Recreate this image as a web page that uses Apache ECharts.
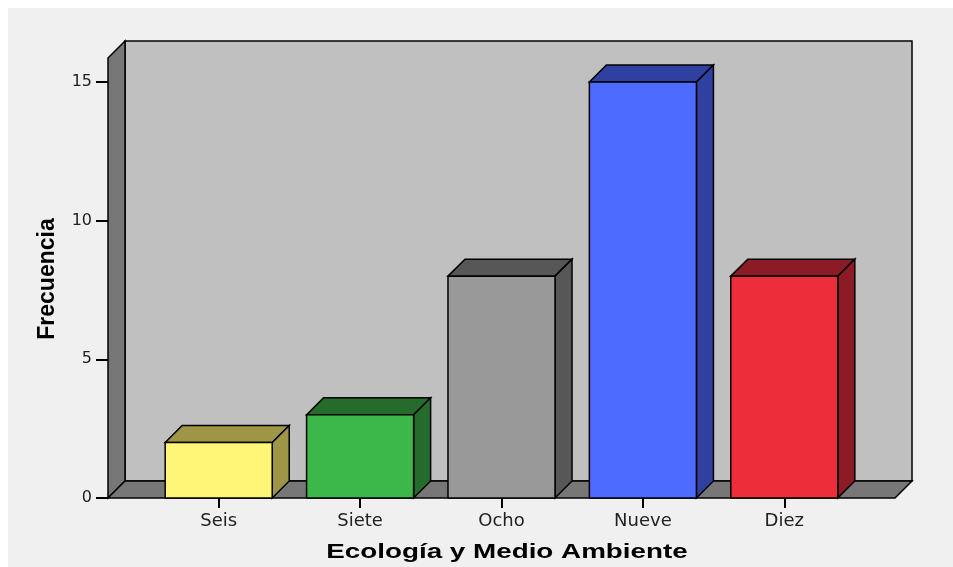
<!DOCTYPE html>
<html><head><meta charset="utf-8">
<script src="https://cdn.jsdelivr.net/npm/echarts@6/dist/echarts.min.js"></script>
<style>html,body{margin:0;padding:0;background:#fff}#c{width:953px;height:567px}</style>
</head><body><div id="c"></div>
<script>
// ---- data ----
const categories = ['Seis', 'Siete', 'Ocho', 'Nueve', 'Diez'];
const frecuencias = [2, 3, 8, 15, 8];
const yMin = 0, yMax = 15, yInterval = 5;
const xTitle = 'Ecología y Medio Ambiente';
const yTitle = 'Frecuencia';

// ---- style ----
const frontColors = ['#fff577', '#3cb84a', '#999999', '#4d6bff', '#ee2d3b'];
const shadeColors = ['#9e9645', '#256b2b', '#575757', '#2f40a0', '#8c1b25'];
const DX = 17, DY = -17;      // 3D depth offset
const PAD = 40;               // floor overhang beyond category band
const WALL_EXTRA = 24;        // wall height above top tick
const BAR_RATIO = 0.757;
const EDGE = '#000';

const chart = echarts.init(document.getElementById('c'), null, {renderer: 'canvas'});

function renderFrame(params, api) {
  const cs = params.coordSys;
  const x0 = cs.x - PAD, x1 = cs.x + cs.width + PAD;
  const yb = api.coord([0, yMin])[1];
  const yt = api.coord([0, yMax])[1] - WALL_EXTRA;
  const ls = {stroke: EDGE, lineWidth: 1.5};
  return {
    type: 'group',
    children: [
      {type: 'polygon', shape: {points: [[x0 + DX, yt + DY], [x1 + DX, yt + DY], [x1 + DX, yb + DY], [x0 + DX, yb + DY]]},
       style: Object.assign({fill: '#c0c0c0'}, ls)},
      {type: 'polygon', shape: {points: [[x0, yt], [x0 + DX, yt + DY], [x0 + DX, yb + DY], [x0, yb]]},
       style: Object.assign({fill: '#777777'}, ls)},
      {type: 'polygon', shape: {points: [[x0, yb], [x0 + DX, yb + DY], [x1 + DX, yb + DY], [x1, yb]]},
       style: Object.assign({fill: '#777777'}, ls)}
    ]
  };
}

function renderBar(params, api) {
  const i = api.value(0), v = api.value(1);
  const p0 = api.coord([i, 0]);
  const p1 = api.coord([i, v]);
  const w = api.size([1, 0])[0] * BAR_RATIO;
  const xl = p0[0] - w / 2, xr = xl + w;
  const yb = p0[1], yt = p1[1];
  const idx = params.dataIndex;
  const ls = {stroke: EDGE, lineWidth: 1.5, lineJoin: 'miter'};
  return {
    type: 'group',
    children: [
      {type: 'polygon', shape: {points: [[xl, yt], [xl + DX, yt + DY], [xr + DX, yt + DY], [xr, yt]]},
       style: Object.assign({fill: shadeColors[idx]}, ls)},
      {type: 'polygon', shape: {points: [[xr, yt], [xr + DX, yt + DY], [xr + DX, yb + DY], [xr, yb]]},
       style: Object.assign({fill: shadeColors[idx]}, ls)},
      {type: 'rect', shape: {x: xl, y: yt, width: w, height: yb - yt},
       style: Object.assign({fill: frontColors[idx]}, ls)}
    ]
  };
}

chart.setOption({
  animation: false,
  backgroundColor: '#f0f0f0',
  grid: {left: 148, right: 98, top: 82, bottom: 69},
  xAxis: {
    type: 'category', data: categories,
    axisLine: {show: false},
    axisTick: {show: true, alignWithLabel: true, length: 10, lineStyle: {color: '#000', width: 2}},
    axisLabel: {margin: 14, fontFamily: 'DejaVu Sans', fontSize: 18, color: '#222'},
    splitLine: {show: false}
  },
  yAxis: {
    type: 'value', min: yMin, max: yMax, interval: yInterval, offset: 40,
    axisLine: {show: false},
    axisTick: {show: true, length: 12, lineStyle: {color: '#000', width: 2}},
    axisLabel: {margin: 16, fontFamily: 'DejaVu Sans', fontSize: 16, color: '#222'},
    splitLine: {show: false}
  },
  graphic: [
    {type: 'rect', shape: {x: 0, y: 0, width: 953, height: 8}, style: {fill: '#ffffff'}, silent: true},
    {type: 'rect', shape: {x: 0, y: 0, width: 8, height: 567}, style: {fill: '#ffffff'}, silent: true},
    {type: 'text', x: 507, y: 552, scaleX: 1.39,
     style: {text: xTitle, fontFamily: 'Liberation Sans', fontWeight: 'bold', fontSize: 20, fill: '#000', align: 'center', verticalAlign: 'middle'}},
    {type: 'text', x: 48, y: 279, rotation: Math.PI / 2,
     style: {text: yTitle, fontFamily: 'Liberation Sans', fontWeight: 'bold', fontSize: 23, fill: '#000', align: 'center', verticalAlign: 'middle'}}
  ],
  series: [
    {type: 'custom', name: 'frame', silent: true, clip: false, z: 1,
     data: [[0, 0]], renderItem: renderFrame},
    {type: 'custom', name: 'Frecuencia', clip: false, z: 3,
     data: frecuencias.map((v, i) => [i, v]), renderItem: renderBar}
  ]
});
</script>
</body></html>
